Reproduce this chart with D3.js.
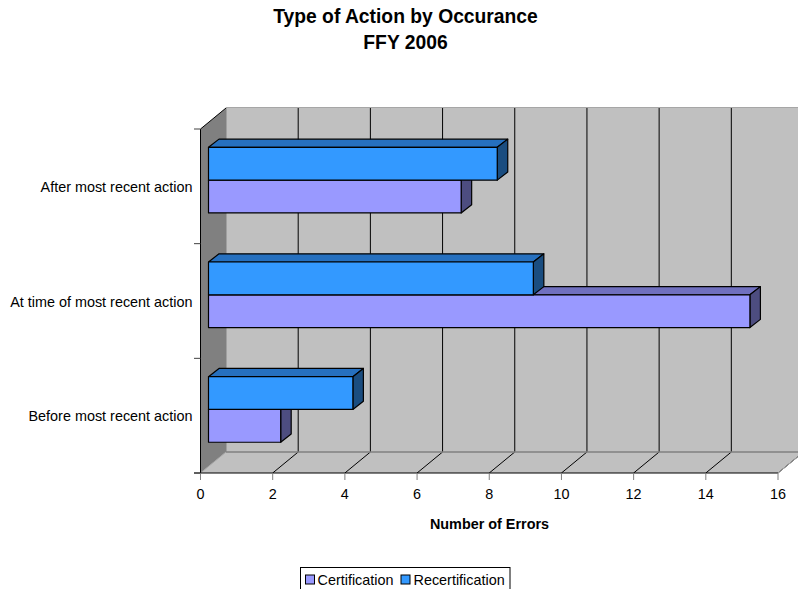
<!DOCTYPE html>
<html>
<head>
<meta charset="utf-8">
<style>
  html, body { margin: 0; padding: 0; background: #fff; overflow: hidden; }
  svg { display: block; font-family: "Liberation Sans", Arial, sans-serif; }
</style>
<script src="https://cdn.jsdelivr.net/npm/d3@7"></script>
</head>
<body>
<script>
const categories = ["After most recent action", "At time of most recent action", "Before most recent action"];
const seriesNames = ["Recertification", "Certification"];
const certification = [7, 15, 2];
const recertification = [8, 9, 4];
const xTicks = [0, 2, 4, 6, 8, 10, 12, 14, 16];
const titleLines = ["Type of Action by Occurance", "FFY 2006"];

const width = 798, height = 589;
const svg = d3.select("body").append("svg").attr("width", width).attr("height", height);

// Front plane of the 3D plot box, plus the shift from front to back wall.
const plot = { left: 200.5, right: 778, top: 129, bottom: 473 };
const depth = { dx: 25.5, dy: -21 };
const barDepth = { dx: 10.5, dy: -8.2 };
const barInset = { dx: 8, dy: -6.2 };

const x = d3.scaleLinear().domain([0, 16]).range([plot.left, plot.right]);
const y = d3.scaleBand().domain(categories).range([plot.top, plot.bottom])
  .paddingInner(0.428).paddingOuter(0.214);
const ySeries = d3.scaleBand().domain(seriesNames).range([0, y.bandwidth()]);

const pts = a => a.map(p => p.join(",")).join(" ");

// Walls and floor
const walls = svg.append("g");
walls.append("polygon") // back wall
  .attr("points", pts([
    [plot.left + depth.dx, plot.top + depth.dy],
    [plot.right + depth.dx, plot.top + depth.dy],
    [plot.right + depth.dx, plot.bottom + depth.dy],
    [plot.left + depth.dx, plot.bottom + depth.dy]]))
  .attr("fill", "#c0c0c0");
walls.append("polygon") // floor
  .attr("points", pts([
    [plot.left, plot.bottom],
    [plot.right, plot.bottom],
    [plot.right + depth.dx, plot.bottom + depth.dy],
    [plot.left + depth.dx, plot.bottom + depth.dy]]))
  .attr("fill", "#c0c0c0");
walls.append("polygon") // side wall
  .attr("points", pts([
    [plot.left, plot.top],
    [plot.left + depth.dx, plot.top + depth.dy],
    [plot.left + depth.dx, plot.bottom + depth.dy],
    [plot.left, plot.bottom]]))
  .attr("fill", "#808080");

// Gridlines across the back wall and floor
const grid = svg.append("g");
grid.selectAll("line.wall").data(xTicks.slice(1)).join("line")
  .attr("class", "wall")
  .attr("x1", d => x(d) + depth.dx).attr("x2", d => x(d) + depth.dx)
  .attr("y1", plot.top + depth.dy).attr("y2", plot.bottom + depth.dy)
  .attr("stroke", "#000").attr("stroke-width", 1);
grid.selectAll("line.floor").data(xTicks.slice(1)).join("line")
  .attr("class", "floor")
  .attr("x1", d => x(d)).attr("x2", d => x(d) + depth.dx)
  .attr("y1", plot.bottom).attr("y2", plot.bottom + depth.dy)
  .attr("stroke", "#000").attr("stroke-width", 1);

// Wall outlines
const edge = svg.append("g").attr("fill", "none").attr("stroke", "#808080");
edge.append("line")
  .attr("x1", plot.left + depth.dx).attr("x2", width)
  .attr("y1", plot.top + depth.dy - 0.5).attr("y2", plot.top + depth.dy - 0.5)
  .attr("stroke", "#a6a6a6").attr("stroke-width", 1.2);
edge.append("line")
  .attr("x1", plot.left + depth.dx).attr("x2", plot.right + depth.dx)
  .attr("y1", plot.bottom + depth.dy).attr("y2", plot.bottom + depth.dy)
  .attr("stroke-width", 1.6);
edge.append("line")
  .attr("x1", plot.left + depth.dx).attr("x2", plot.left + depth.dx)
  .attr("y1", plot.top + depth.dy).attr("y2", plot.bottom + depth.dy);
edge.append("line")
  .attr("x1", plot.right).attr("x2", plot.right + depth.dx)
  .attr("y1", plot.bottom).attr("y2", plot.bottom + depth.dy)
  .attr("stroke", "#a6a6a6");
edge.append("line")
  .attr("x1", plot.left).attr("x2", plot.left + depth.dx)
  .attr("y1", plot.bottom).attr("y2", plot.bottom + depth.dy)
  .attr("stroke", "#a6a6a6");
svg.append("line")
  .attr("x1", plot.left).attr("x2", plot.left + depth.dx)
  .attr("y1", plot.top).attr("y2", plot.top + depth.dy)
  .attr("stroke", "#000");

// One 3D box: front face, top face, right side
function drawBar(g, value, category, name, colors) {
  const x0 = x(0) + barInset.dx, x1 = x(value) + barInset.dx;
  const y0 = y(category) + ySeries(name) + barInset.dy;
  const y1 = y0 + ySeries.bandwidth();
  const b = g.append("g").attr("stroke", "#000").attr("stroke-width", 1.2).attr("stroke-linejoin", "round");
  b.append("polygon")
    .attr("points", pts([[x0, y0], [x0 + barDepth.dx, y0 + barDepth.dy], [x1 + barDepth.dx, y0 + barDepth.dy], [x1, y0]]))
    .attr("fill", colors.top);
  b.append("polygon")
    .attr("points", pts([[x1, y0], [x1 + barDepth.dx, y0 + barDepth.dy], [x1 + barDepth.dx, y1 + barDepth.dy], [x1, y1]]))
    .attr("fill", colors.side);
  b.append("rect")
    .attr("x", x0).attr("y", y0).attr("width", x1 - x0).attr("height", y1 - y0)
    .attr("fill", colors.front);
}

const certColors = { front: "#9999ff", top: "#7070bf", side: "#4d4d80" };
const recertColors = { front: "#3399ff", top: "#2670bf", side: "#1a4d80" };
const bars = svg.append("g");
categories.forEach((c, i) => {
  drawBar(bars, certification[i], c, "Certification", certColors);
  drawBar(bars, recertification[i], c, "Recertification", recertColors);
});

// Axes along the front edges
const xAxis = svg.append("g");
xAxis.append("line")
  .attr("x1", plot.left - 6.5).attr("x2", plot.right)
  .attr("y1", plot.bottom).attr("y2", plot.bottom)
  .attr("stroke", "#000");
xAxis.selectAll("line.tick").data(xTicks).join("line")
  .attr("class", "tick")
  .attr("x1", d => x(d)).attr("x2", d => x(d))
  .attr("y1", plot.bottom).attr("y2", plot.bottom + 7)
  .attr("stroke", "#808080");
xAxis.selectAll("text").data(xTicks).join("text")
  .attr("x", d => x(d)).attr("y", 499)
  .attr("text-anchor", "middle").attr("font-size", 14.4).attr("fill", "#000")
  .text(d => d);

const yAxis = svg.append("g");
yAxis.append("line")
  .attr("x1", plot.left).attr("x2", plot.left)
  .attr("y1", plot.top).attr("y2", plot.bottom)
  .attr("stroke", "#000");
yAxis.selectAll("line").filter(".tick").data([0, 1, 2, 3]).join("line")
  .attr("class", "tick")
  .attr("x1", plot.left - 6.5).attr("x2", plot.left)
  .attr("y1", i => plot.top + i * y.step()).attr("y2", i => plot.top + i * y.step())
  .attr("stroke", "#404040");
yAxis.selectAll("text").data(categories).join("text")
  .attr("x", 192.5)
  .attr("y", d => y(d) + y.bandwidth() / 2 + barInset.dy + 12)
  .attr("text-anchor", "end").attr("font-size", 14.4).attr("fill", "#000")
  .text(d => d);

// Titles
svg.append("g").selectAll("text").data(titleLines).join("text")
  .attr("x", 405.5).attr("y", (d, i) => 23 + i * 26)
  .attr("text-anchor", "middle").attr("font-size", 19.3).attr("font-weight", "bold")
  .text(d => d);
svg.append("text")
  .attr("x", 489.5).attr("y", 529)
  .attr("text-anchor", "middle").attr("font-size", 14.4).attr("font-weight", "bold")
  .text("Number of Errors");

// Legend, cut off by the lower edge of the frame
const legendItems = [
  { name: "Certification", color: certColors.front, box: 305, label: 317.5 },
  { name: "Recertification", color: recertColors.front, box: 400.5, label: 413.5 }
];
const legend = svg.append("g");
legend.append("rect")
  .attr("x", 300.5).attr("y", 567.5).attr("width", 209.5).attr("height", 30)
  .attr("fill", "#fff").attr("stroke", "#000");
legendItems.forEach(it => {
  legend.append("rect").attr("x", it.box + 0.5).attr("y", 575).attr("width", 9).attr("height", 9)
    .attr("fill", it.color).attr("stroke", "#000");
  legend.append("text").attr("x", it.label).attr("y", 585)
    .attr("font-size", 14.4).text(it.name);
});
</script>
</body>
</html>
